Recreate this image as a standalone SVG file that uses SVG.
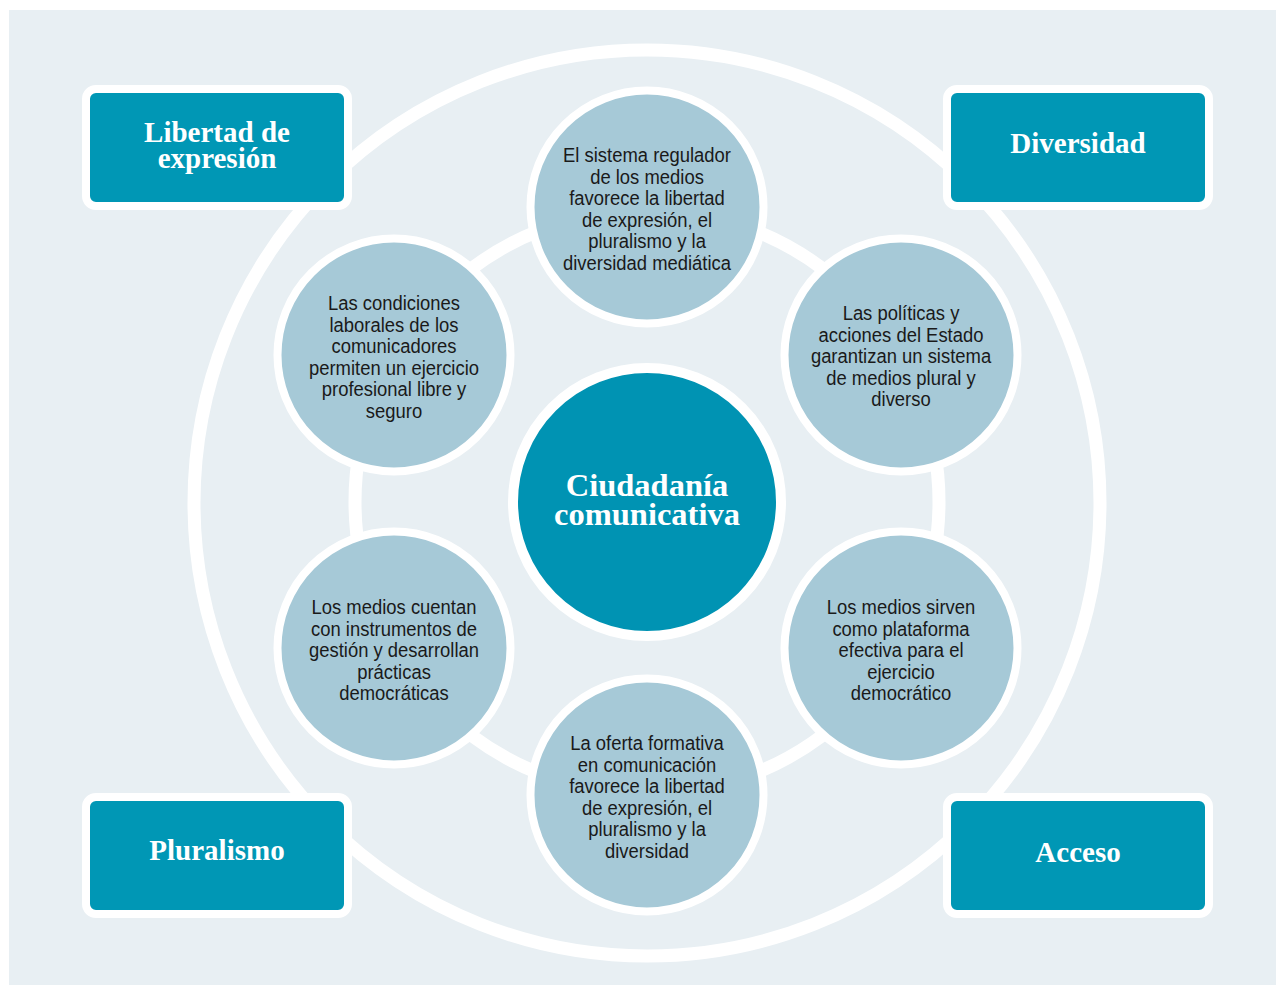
<svg xmlns="http://www.w3.org/2000/svg" width="1276" height="985" viewBox="0 0 1276 985">
<style>
.bg{fill:#E8EFF3}
.ring{fill:none;stroke:#FFFFFF;stroke-width:13}
.box{fill:#0097B5;stroke:#FFFFFF;stroke-width:8}
.sat{fill:#A6C9D7;stroke:#FFFFFF;stroke-width:8}
.hub{fill:#0093B3;stroke:#FFFFFF;stroke-width:10}
.lbl{font-family:"Liberation Serif","Times New Roman",serif;font-weight:bold;font-size:29px;fill:#FFFFFF;text-anchor:middle}
.hubt{font-family:"Liberation Serif","Times New Roman",serif;font-weight:bold;font-size:32.5px;fill:#FFFFFF;text-anchor:middle}
.st{font-family:"Liberation Sans",Arial,sans-serif;font-size:19.5px;fill:#1A1A1A;text-anchor:middle}
</style>
<rect x="0" y="0" width="1276" height="985" fill="#FFFFFF"/>
<rect class="bg" x="9" y="10" width="1267" height="975"/>
<g id="connectors">
<circle class="ring" cx="647" cy="503" r="453"/>
<circle class="ring" cx="647" cy="502" r="292"/>
</g>
<g id="box-libertad">
<rect class="box" x="86" y="89" width="262" height="117" rx="10"/>
<text class="lbl" x="217" y="142">Libertad de</text>
<text class="lbl" x="217" y="168">expresión</text>
</g>
<g id="box-diversidad">
<rect class="box" x="947" y="89" width="262" height="117" rx="10"/>
<text class="lbl" x="1078" y="153">Diversidad</text>
</g>
<g id="box-pluralismo">
<rect class="box" x="86" y="797" width="262" height="117" rx="10"/>
<text class="lbl" x="217" y="860">Pluralismo</text>
</g>
<g id="box-acceso">
<rect class="box" x="947" y="797" width="262" height="117" rx="10"/>
<text class="lbl" x="1078" y="862">Acceso</text>
</g>
<g id="hub">
<circle class="hub" cx="647" cy="502" r="134"/>
<text class="hubt" x="647" y="496">Ciudadanía</text>
<text class="hubt" x="647" y="525">comunicativa</text>
</g>
<g id="sat-top">
<circle class="sat" cx="647" cy="207" r="116.5"/>
<g transform="translate(647,0) scale(0.945,1)">
<text class="st" x="0" y="162">El sistema regulador</text>
<text class="st" x="0" y="183.6">de los medios</text>
<text class="st" x="0" y="205.2">favorece la libertad</text>
<text class="st" x="0" y="226.8">de expresión, el</text>
<text class="st" x="0" y="248.4">pluralismo y la</text>
<text class="st" x="0" y="270">diversidad mediática</text>
</g>
</g>
<g id="sat-upper-right">
<circle class="sat" cx="901" cy="355" r="116.5"/>
<g transform="translate(901,0) scale(0.945,1)">
<text class="st" x="0" y="320">Las políticas y</text>
<text class="st" x="0" y="341.6">acciones del Estado</text>
<text class="st" x="0" y="363.2">garantizan un sistema</text>
<text class="st" x="0" y="384.8">de medios plural y</text>
<text class="st" x="0" y="406.4">diverso</text>
</g>
</g>
<g id="sat-lower-right">
<circle class="sat" cx="901" cy="648" r="116.5"/>
<g transform="translate(901,0) scale(0.945,1)">
<text class="st" x="0" y="614">Los medios sirven</text>
<text class="st" x="0" y="635.6">como plataforma</text>
<text class="st" x="0" y="657.2">efectiva para el</text>
<text class="st" x="0" y="678.8">ejercicio</text>
<text class="st" x="0" y="700.4">democrático</text>
</g>
</g>
<g id="sat-bottom">
<circle class="sat" cx="647" cy="795" r="116.5"/>
<g transform="translate(647,0) scale(0.945,1)">
<text class="st" x="0" y="750">La oferta formativa</text>
<text class="st" x="0" y="771.6">en comunicación</text>
<text class="st" x="0" y="793.2">favorece la libertad</text>
<text class="st" x="0" y="814.8">de expresión, el</text>
<text class="st" x="0" y="836.4">pluralismo y la</text>
<text class="st" x="0" y="858">diversidad</text>
</g>
</g>
<g id="sat-lower-left">
<circle class="sat" cx="394" cy="648" r="116.5"/>
<g transform="translate(394,0) scale(0.945,1)">
<text class="st" x="0" y="614">Los medios cuentan</text>
<text class="st" x="0" y="635.6">con instrumentos de</text>
<text class="st" x="0" y="657.2">gestión y desarrollan</text>
<text class="st" x="0" y="678.8">prácticas</text>
<text class="st" x="0" y="700.4">democráticas</text>
</g>
</g>
<g id="sat-upper-left">
<circle class="sat" cx="394" cy="355" r="116.5"/>
<g transform="translate(394,0) scale(0.945,1)">
<text class="st" x="0" y="310">Las condiciones</text>
<text class="st" x="0" y="331.6">laborales de los</text>
<text class="st" x="0" y="353.2">comunicadores</text>
<text class="st" x="0" y="374.8">permiten un ejercicio</text>
<text class="st" x="0" y="396.4">profesional libre y</text>
<text class="st" x="0" y="418">seguro</text>
</g>
</g>
</svg>
